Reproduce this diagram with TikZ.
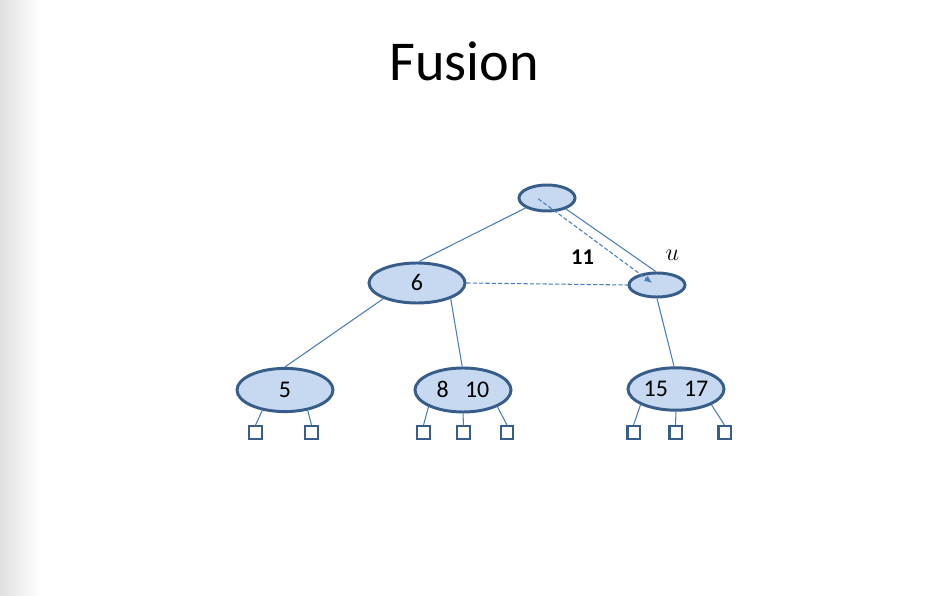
\documentclass[tikz,border=0pt]{standalone}
\usepackage{fontspec}
\setmainfont{Carlito}
\usetikzlibrary{shapes.geometric, positioning, arrows.meta}

\definecolor{keyfill}{RGB}{198,217,240}
\definecolor{keyline}{RGB}{56,93,138}
\definecolor{linkline}{RGB}{74,126,187}

\begin{document}
\begin{tikzpicture}[x=0.025cm, y=-0.025cm,
        key/.style={ellipse,
              draw=keyline,
              fill=keyfill,
              line width=2.1pt,
              inner sep=0pt,
              text height=10.8pt,
              text depth=0pt,
              font=\fontsize{17}{20}\selectfont},
        leaf/.style={rectangle,
              draw=keyline,
              fill=white,
              line width=1.7pt,
              minimum size=0.31cm,
              inner sep=0pt},
        link/.style={draw=linkline, line width=0.75pt}]
        \useasboundingbox (0,0) rectangle (928,596);
        \fill[white] (0,0) rectangle (928,596);
        \shade[left color=black!12, right color=white] (0,0) rectangle (40,596);
        \node[font=\fontsize{40}{48}\selectfont, anchor=base] (title) at (464,81) {Fusion};
        % inner nodes
        \node[key, minimum width=1.4cm, minimum height=0.65cm] (root) at (547,198) {};
        \node[key, minimum width=2.4cm, minimum height=1cm] (six) at (417,283) {6};
        \node[key, minimum width=1.4cm, minimum height=0.6cm] (u) at (657,285) {};
        \node[key, minimum width=2.4cm, minimum height=1.08cm] (five) at (285,390) {5};
        \node[key, minimum width=2.4cm, minimum height=1.1cm] (eightten) at (463,390) {8~~~10};
        \node[key, minimum width=2.4cm, minimum height=1.06cm] (fifteen) at (676,389) {15~~~17};
        % leaves
        \node[leaf] (a1) at (255.5,432.5) {};
        \node[leaf] (a2) at (311.5,432.5) {};
        \node[leaf] (b1) at (423.5,432.5) {};
        \node[leaf] (b2) at (463.5,432.5) {};
        \node[leaf] (b3) at (507,432.5) {};
        \node[leaf] (c1) at (633.5,432.5) {};
        \node[leaf] (c2) at (675.5,432.5) {};
        \node[leaf] (c3) at (724.5,432.5) {};
        % labels
        \node[font=\fontsize{16}{19}\selectfont\bfseries] (eleven) at (582.5,257) {11};
        \node[font=\fontsize{16}{19}\selectfont] (ulabel) at (672.5,255) {$u$};
        \draw[link]
            (root.205) -- (six.85)
            (root.330) -- (u.95)
            (six.205) -- (five.north)
            (six.335) -- (eightten.92)
            (u.south) -- (fifteen.95)
            (five.222) -- (a1.north)
            (five.318) -- (a2.north)
            (eightten.206) -- (b1.north)
            (eightten.270) -- (b2.north)
            (eightten.334) -- (b3.north)
            (fifteen.204) -- (c1.north)
            (fifteen.270) -- (c2.north)
            (fifteen.336) -- (c3.north);
        \draw[link, dash pattern=on 3pt off 1.5pt] (six.east) -- (u.west);
        \draw[link,
              dash pattern=on 3pt off 1.5pt,
              -{Latex[length=5.5pt, width=4.5pt]}]
            ([xshift=-0.22cm, yshift=-0.02cm]root.center) -- ([xshift=-0.12cm, yshift=0.05cm]u.center);
\end{tikzpicture}
\end{document}
